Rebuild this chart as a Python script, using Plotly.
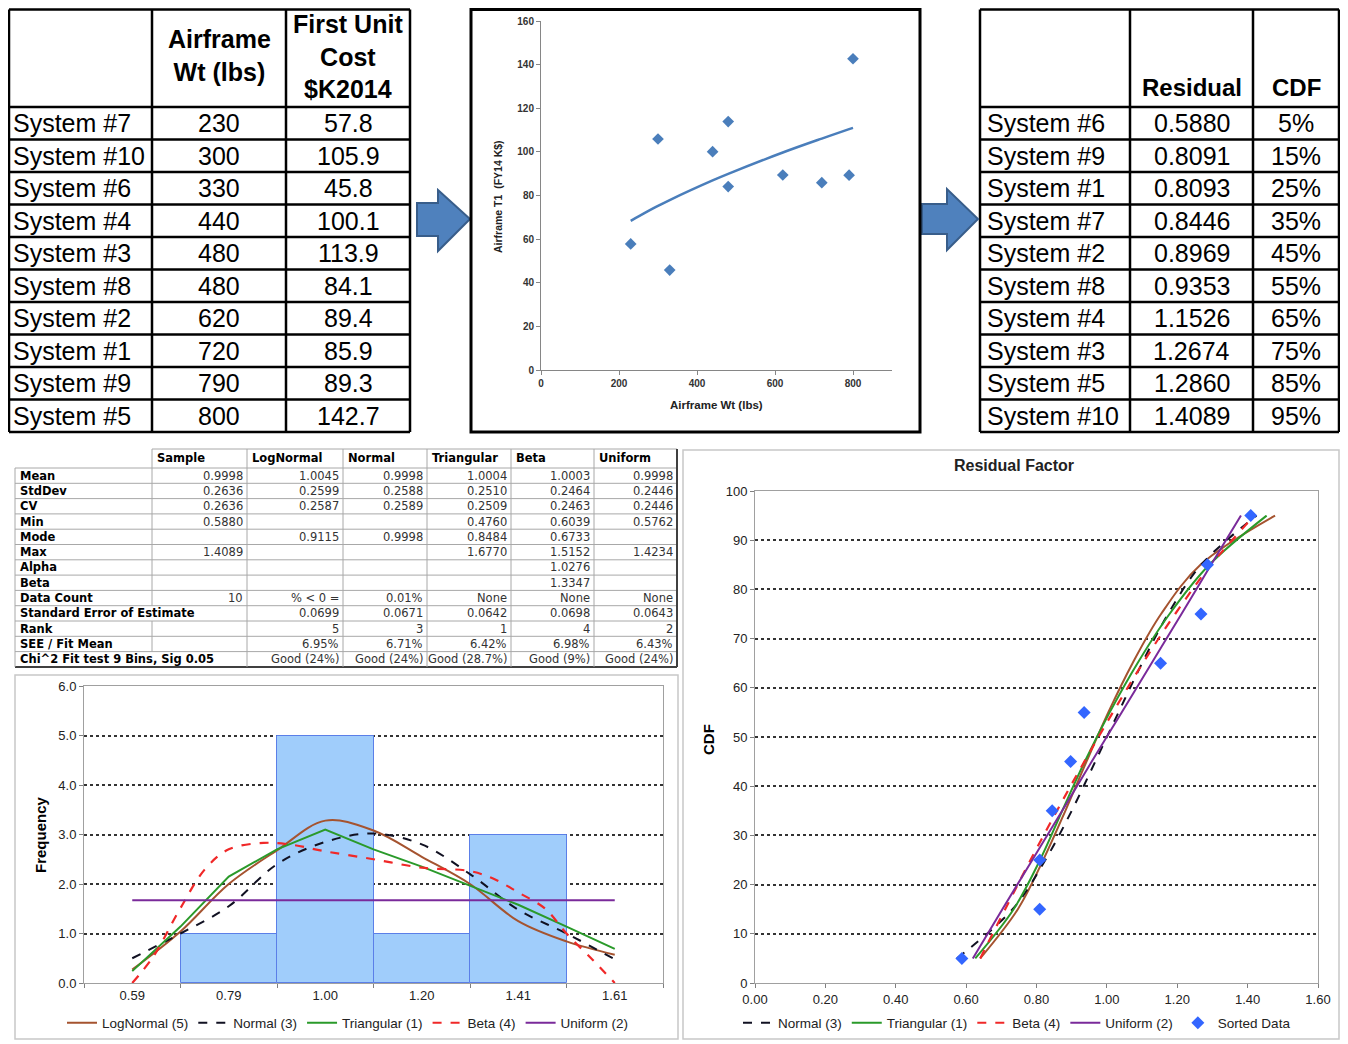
import plotly.graph_objects as go

W, H = 1348, 1044
OFF = 8  # page body margin offset


def px(x):
    return (x - OFF) / W


def py(y):
    return 1 - (y - OFF) / H


# ---------------- data ----------------
systems_by_wt = ["System #7", "System #10", "System #6", "System #4", "System #3",
                 "System #8", "System #2", "System #1", "System #9", "System #5"]
airframe_wt = [230, 300, 330, 440, 480, 480, 620, 720, 790, 800]
first_unit_cost = [57.8, 105.9, 45.8, 100.1, 113.9, 84.1, 89.4, 85.9, 89.3, 142.7]

trend_wt = [230, 300, 330, 440, 480, 620, 720, 790, 800]
trend_cost = [68.4, 75.2, 77.9, 86.9, 89.9, 99.7, 106.1, 110.4, 111.0]

systems_sorted = ["System #6", "System #9", "System #1", "System #7", "System #2",
                  "System #8", "System #4", "System #3", "System #5", "System #10"]
residual = [0.5880, 0.8091, 0.8093, 0.8446, 0.8969, 0.9353, 1.1526, 1.2674, 1.2860, 1.4089]
cdf_pct = [5, 15, 25, 35, 45, 55, 65, 75, 85, 95]

stat_labels = ["Mean", "StdDev", "CV", "Min", "Mode", "Max", "Alpha", "Beta", "Data Count",
               "Standard Error of Estimate", "Rank", "SEE / Fit Mean",
               "Chi^2 Fit test 9 Bins, Sig 0.05"]
stat_headers = ["Sample", "LogNormal", "Normal", "Triangular", "Beta", "Uniform"]
stat_sample = ["0.9998", "0.2636", "0.2636", "0.5880", "", "1.4089", "", "", "10", "", "", "", ""]
stat_lognormal = ["1.0045", "0.2599", "0.2587", "", "0.9115", "", "", "", "% < 0 =", "0.0699", "5",
                  "6.95%", "Good (24%)"]
stat_normal = ["0.9998", "0.2588", "0.2589", "", "0.9998", "", "", "", "0.01%", "0.0671", "3",
               "6.71%", "Good (24%)"]
stat_triangular = ["1.0004", "0.2510", "0.2509", "0.4760", "0.8484", "1.6770", "", "", "None",
                   "0.0642", "1", "6.42%", "Good (28.7%)"]
stat_beta = ["1.0003", "0.2464", "0.2463", "0.6039", "0.6733", "1.5152", "1.0276", "1.3347", "None",
             "0.0698", "4", "6.98%", "Good (9%)"]
stat_uniform = ["0.9998", "0.2446", "0.2446", "0.5762", "", "1.4234", "", "", "None", "0.0643", "2",
                "6.43%", "Good (24%)"]
stat_columns = [stat_sample, stat_lognormal, stat_normal, stat_triangular, stat_beta, stat_uniform]

hist_bins = ["0.59", "0.79", "1.00", "1.20", "1.41", "1.61"]
hist_freq = [0, 1, 5, 1, 3, 0]

# fitted pdf curves, positions measured in bin units (0 = first bin label)
pdf_pos = [0, 0.5, 1, 1.5, 2, 2.5, 3, 3.5, 4, 4.5, 5]
pdf_lognormal = [0.27, 1.04, 2.0, 2.68, 3.28, 3.08, 2.55, 2.0, 1.25, 0.84, 0.57]
pdf_normal = [0.5, 1.0, 1.55, 2.4, 2.85, 3.02, 2.8, 2.2, 1.48, 1.0, 0.48]
pdf_triangular = [0.24, 1.14, 2.15, 2.7, 3.1, 2.7, 2.35, 1.96, 1.58, 1.14, 0.69]
pdf_beta_pos = [0, 0.22, 0.49, 0.75, 1, 1.36, 1.63, 2, 2.5, 3, 3.5, 3.75, 4, 4.28, 4.5, 4.77, 5]
pdf_beta = [0, 0.54, 1.48, 2.29, 2.7, 2.83, 2.8, 2.66, 2.5, 2.33, 2.26, 2.1, 1.83, 1.5, 1.0, 0.47, 0]
pdf_uniform_pos = [0, 5]
pdf_uniform = [1.67, 1.67]

# fitted cdf curves (x at each cdf level)
cdf_lognormal_x = [0.640, 0.747, 0.819, 0.882, 0.942, 1.004, 1.073, 1.154, 1.266, 1.478]
cdf_normal_x = [0.574, 0.732, 0.825, 0.900, 0.967, 1.033, 1.100, 1.174, 1.268, 1.425]
cdf_triangular_x = [0.626, 0.735, 0.810, 0.873, 0.937, 1.008, 1.087, 1.178, 1.291, 1.454]
cdf_beta_x = [0.640, 0.711, 0.783, 0.858, 0.936, 1.017, 1.102, 1.194, 1.296, 1.419]
cdf_uniform_x = [0.619, 0.703, 0.788, 0.873, 0.957, 1.042, 1.127, 1.212, 1.296, 1.381]

# ---------------- figure ----------------
fig = go.Figure()
shapes = []
annotations = []

C_LOGN = "#A5532F"
C_NORM = "#111122"
C_TRI = "#2A9A2A"
C_BETA = "#F02828"
C_UNI = "#7A2A9A"


def hline(x0, x1, y, color="black", width=1):
    shapes.append(dict(type="line", xref="paper", yref="paper", x0=px(x0), x1=px(x1),
                       y0=py(y), y1=py(y), line=dict(color=color, width=width)))


def vline(x, y0, y1, color="black", width=1):
    shapes.append(dict(type="line", xref="paper", yref="paper", x0=px(x), x1=px(x),
                       y0=py(y0), y1=py(y1), line=dict(color=color, width=width)))


def rect(x0, y0, x1, y1, color, width):
    shapes.append(dict(type="rect", xref="paper", yref="paper", x0=px(x0), x1=px(x1),
                       y0=py(y1), y1=py(y0), line=dict(color=color, width=width)))


def label(x, y, s, size, bold=False, xanchor="center", family="Arial", color="black",
          angle=0, yanchor="middle"):
    annotations.append(dict(text=s, x=px(x), y=py(y), xref="paper", yref="paper",
                            showarrow=False, xanchor=xanchor, yanchor=yanchor, textangle=angle,
                            font=dict(size=size, family=family, color=color,
                                      weight="bold" if bold else "normal")))


def arrow(pts):
    d = "M " + " L ".join(f"{px(x):.5f},{py(y):.5f}" for x, y in pts) + " Z"
    shapes.append(dict(type="path", xref="paper", yref="paper", path=d,
                       fillcolor="#4F81BD", line=dict(color="#385D8A", width=2)))


# ---- table 1 (weights & cost) ----
t1_cols = [9, 152, 286, 410]
t_head_top, t_head_bot, t_row_h = 9.5, 107, 32.5
t_rows = [t_head_bot + t_row_h * i for i in range(len(systems_by_wt) + 1)]
for y in [t_head_top] + t_rows:
    hline(t1_cols[0], t1_cols[-1], y, "black", 2.5)
for x in t1_cols:
    vline(x, t_head_top, t_rows[-1], "black", 2.5)
label(219, 56, "Airframe<br>Wt (lbs)", 25, bold=True)
label(348, 57, "First Unit<br>Cost<br>$K2014", 25, bold=True)
for i, (s, w, c) in enumerate(zip(systems_by_wt, airframe_wt, first_unit_cost)):
    yc = t_rows[i] + t_row_h / 2
    label(t1_cols[0] + 2, yc, s, 25, xanchor="left")
    label((t1_cols[1] + t1_cols[2]) / 2, yc, f"{w}", 25)
    label((t1_cols[2] + t1_cols[3]) / 2, yc, f"{c:.1f}", 25)

# ---- table 3 (residual & cdf) ----
t3_cols = [980, 1130, 1253, 1339]
for y in [t_head_top] + t_rows:
    hline(t3_cols[0], t3_cols[-1], y, "black", 2.5)
for x in t3_cols:
    vline(x, t_head_top, t_rows[-1], "black", 2.5)
label((t3_cols[1] + t3_cols[2]) / 2, 88, "Residual", 24, bold=True)
label((t3_cols[2] + t3_cols[3]) / 2, 88, "CDF", 24, bold=True)
for i, (s, r, c) in enumerate(zip(systems_sorted, residual, cdf_pct)):
    yc = t_rows[i] + t_row_h / 2
    label(t3_cols[0] + 5, yc, s, 25, xanchor="left")
    label((t3_cols[1] + t3_cols[2]) / 2, yc, f"{r:.4f}", 25)
    label((t3_cols[2] + t3_cols[3]) / 2, yc, f"{c}%", 25)

# ---- stats table ----
s_cols = [15, 152, 247, 343, 427, 511, 594, 677]
s_top, s_head_bot, s_row_h = 449, 468, 15.3
s_rows = [s_head_bot + s_row_h * i for i in range(len(stat_labels) + 1)]
GRID = "#A8A8A8"
hline(s_cols[1], s_cols[-1], s_top, GRID, 1)
for y in s_rows[:-1]:
    hline(s_cols[0], s_cols[-1], y, GRID, 1)
hline(s_cols[0], s_cols[-1], s_rows[-1], "#404040", 2)
vline(s_cols[0], s_head_bot, s_rows[-1], GRID, 1)
vline(s_cols[1], s_top, s_head_bot, GRID, 1)
for x in s_cols[2:-1]:
    vline(x, s_top, s_rows[-1], GRID, 1)
vline(s_cols[-1], s_top, s_rows[-1], "#404040", 2)
span_rows = {"Standard Error of Estimate", "Chi^2 Fit test 9 Bins, Sig 0.05"}
for i, lab in enumerate(stat_labels):
    if lab not in span_rows:
        vline(s_cols[1], s_rows[i], s_rows[i + 1], GRID, 1)
for j, h in enumerate(stat_headers):
    label(s_cols[j + 1] + 3, (s_top + s_head_bot) / 2, h, 11.5, bold=True, xanchor="left",
          family="DejaVu Sans")
for i, lab in enumerate(stat_labels):
    yc = s_rows[i] + s_row_h / 2
    label(s_cols[0] + 3, yc, lab, 11.5, bold=True, xanchor="left", family="DejaVu Sans")
    for j, col in enumerate(stat_columns):
        if col[i]:
            label(s_cols[j + 2] - 2, yc, col[i], 11.5, xanchor="right", family="DejaVu Sans",
                  color="#333")

# ---- arrows ----
arrow([(417, 203), (438, 203), (438, 190), (470, 219), (438, 251), (438, 236), (417, 236)])
arrow([(922, 204), (947, 204), (947, 189), (978, 219), (947, 250), (947, 234), (922, 234)])

# ---- frames ----
rect(471, 9.5, 920, 432, "black", 3)
rect(15, 675, 678, 1039, "#C8C8C8", 1.5)
rect(683, 450, 1339, 1039, "#C8C8C8", 1.5)

# ---- scatter chart ----
fig.add_trace(go.Scatter(x=airframe_wt, y=first_unit_cost, mode="markers",
                         marker=dict(symbol="diamond", size=9, color="#4A7EBB"),
                         xaxis="x", yaxis="y", showlegend=False))
fig.add_trace(go.Scatter(x=trend_wt, y=trend_cost, mode="lines",
                         line=dict(color="#4A7EBB", width=2.5, shape="spline"),
                         xaxis="x", yaxis="y", showlegend=False))
label(716, 405, "Airframe Wt (lbs)", 11.5, bold=True, color="#222")
label(498, 197, "Airframe T1  (FY14 K$)", 10.5, bold=True, color="#222", angle=-90)

# ---- histogram ----
fig.add_trace(go.Bar(x=list(range(len(hist_bins))), y=hist_freq, width=1,
                     marker=dict(color="#A0CDFB",
                                 line=dict(color="#5B7FE8",
                                           width=[0 if v == 0 else 1 for v in hist_freq])),
                     xaxis="x2", yaxis="y2", showlegend=False))
fig.add_trace(go.Scatter(x=pdf_pos, y=pdf_lognormal, mode="lines", name="LogNormal (5)",
                         line=dict(color=C_LOGN, width=2, shape="spline"),
                         xaxis="x2", yaxis="y2", legend="legend"))
fig.add_trace(go.Scatter(x=pdf_pos, y=pdf_normal, mode="lines", name="Normal (3)",
                         line=dict(color=C_NORM, width=2, dash="dash", shape="spline"),
                         xaxis="x2", yaxis="y2", legend="legend"))
fig.add_trace(go.Scatter(x=pdf_pos, y=pdf_triangular, mode="lines", name="Triangular (1)",
                         line=dict(color=C_TRI, width=2),
                         xaxis="x2", yaxis="y2", legend="legend"))
fig.add_trace(go.Scatter(x=pdf_beta_pos, y=pdf_beta, mode="lines", name="Beta (4)",
                         line=dict(color=C_BETA, width=2.2, dash="dash", shape="spline"),
                         xaxis="x2", yaxis="y2", legend="legend"))
fig.add_trace(go.Scatter(x=pdf_uniform_pos, y=pdf_uniform, mode="lines", name="Uniform (2)",
                         line=dict(color=C_UNI, width=2),
                         xaxis="x2", yaxis="y2", legend="legend"))
label(40, 835, "Frequency", 15, bold=True, angle=-90)

# ---- cdf chart ----
fig.add_trace(go.Scatter(x=cdf_lognormal_x, y=cdf_pct, mode="lines", name="LogNormal (5)",
                         line=dict(color=C_LOGN, width=2, shape="spline"),
                         xaxis="x3", yaxis="y3", legend="legend2", showlegend=False))
fig.add_trace(go.Scatter(x=cdf_normal_x, y=cdf_pct, mode="lines", name="Normal (3)",
                         line=dict(color=C_NORM, width=2, dash="dash", shape="spline"),
                         xaxis="x3", yaxis="y3", legend="legend2"))
fig.add_trace(go.Scatter(x=cdf_triangular_x, y=cdf_pct, mode="lines", name="Triangular (1)",
                         line=dict(color=C_TRI, width=2, shape="spline"),
                         xaxis="x3", yaxis="y3", legend="legend2"))
fig.add_trace(go.Scatter(x=cdf_beta_x, y=cdf_pct, mode="lines", name="Beta (4)",
                         line=dict(color=C_BETA, width=2.2, dash="dash", shape="spline"),
                         xaxis="x3", yaxis="y3", legend="legend2"))
fig.add_trace(go.Scatter(x=cdf_uniform_x, y=cdf_pct, mode="lines", name="Uniform (2)",
                         line=dict(color=C_UNI, width=2, shape="spline"),
                         xaxis="x3", yaxis="y3", legend="legend2"))
fig.add_trace(go.Scatter(x=residual, y=cdf_pct, mode="markers", name="Sorted Data",
                         marker=dict(symbol="diamond", size=10, color="#3366FF"),
                         xaxis="x3", yaxis="y3", legend="legend2"))
label(1014, 466, "Residual Factor", 16, bold=True, color="#222")
label(708, 740, "CDF", 15, bold=True, angle=-90)

tick_font = dict(family="Arial", size=13, color="#222")
legend_common = dict(orientation="h", yanchor="middle", y=py(1023), xanchor="center",
                     font=dict(family="Arial", size=13.5, color="#222"),
                     bgcolor="rgba(0,0,0,0)", itemwidth=30, tracegroupgap=0)

fig.update_layout(
    width=W, height=H, margin=dict(l=0, r=0, t=0, b=0, autoexpand=False),
    paper_bgcolor="white", plot_bgcolor="white",
    shapes=shapes, annotations=annotations,
    bargap=0,
    xaxis=dict(domain=[px(541), px(892)], range=[0, 900], dtick=200, anchor="y",
               showline=True, linecolor="#868686", ticks="outside", ticklen=4,
               tickcolor="#868686", showgrid=False, zeroline=False,
               tickfont=dict(family="Arial", size=10, color="#333", weight="bold")),
    yaxis=dict(domain=[py(370), py(21)], range=[0, 160], dtick=20, anchor="x",
               showline=True, linecolor="#868686", ticks="outside", ticklen=4,
               tickcolor="#868686", showgrid=False, zeroline=False,
               tickfont=dict(family="Arial", size=10, color="#333", weight="bold")),
    xaxis2=dict(domain=[px(84), px(663)], range=[-0.5, 5.5], anchor="y2",
                tickvals=list(range(len(hist_bins))), ticktext=hist_bins, ticks="",
                showline=True, mirror=True, linecolor="#A0A0A0", showgrid=False,
                zeroline=False, tickfont=tick_font,
                minor=dict(tickmode="linear", tick0=0.5, dtick=1, ticks="outside",
                           ticklen=4, tickcolor="#808080", showgrid=False)),
    yaxis2=dict(domain=[py(983), py(686)], range=[0, 6], dtick=1, tickformat=".1f",
                anchor="x2", ticks="outside", ticklen=4, tickcolor="#808080",
                showline=True, mirror=True, linecolor="#A0A0A0",
                showgrid=True, gridcolor="#333", griddash="dot", gridwidth=1.5,
                zeroline=False, tickfont=tick_font),
    xaxis3=dict(domain=[px(755), px(1318)], range=[0, 1.6], dtick=0.2, tickformat=".2f",
                anchor="y3", ticks="outside", ticklen=4, tickcolor="#808080",
                showline=True, mirror=True, linecolor="#A0A0A0", showgrid=False,
                zeroline=False, tickfont=tick_font),
    yaxis3=dict(domain=[py(983), py(491)], range=[0, 100], dtick=10, anchor="x3",
                ticks="outside", ticklen=4, tickcolor="#808080",
                showline=True, mirror=True, linecolor="#A0A0A0",
                showgrid=True, gridcolor="#333", griddash="dot", gridwidth=1.5,
                zeroline=False, tickfont=tick_font),
    legend=dict(x=px(348), **legend_common),
    legend2=dict(x=px(1017), **legend_common),
)

fig.write_html("out.html")
